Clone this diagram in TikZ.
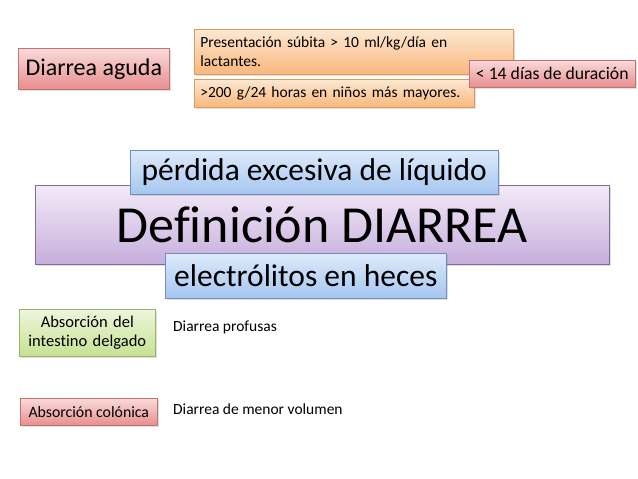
\documentclass[tikz,border=0pt]{standalone}
\usepackage{fontspec}
\setmainfont[Ligatures=NoCommon]{Carlito}
\usetikzlibrary{shadows}
\definecolor{pinkT}{HTML}{FADADA}
\definecolor{pinkB}{HTML}{E88E8E}
\definecolor{pinkD}{HTML}{BE7472}
\definecolor{oraT}{HTML}{FDE8D2}
\definecolor{oraB}{HTML}{F9B77C}
\definecolor{oraD}{HTML}{DB9A5E}
\definecolor{purT}{HTML}{F3EAF8}
\definecolor{purB}{HTML}{C6AEDC}
\definecolor{purD}{HTML}{806C98}
\definecolor{bluT}{HTML}{DDEAFB}
\definecolor{bluB}{HTML}{A6C6F0}
\definecolor{bluD}{HTML}{6F90BE}
\definecolor{grnT}{HTML}{EDF6DD}
\definecolor{grnB}{HTML}{C6E192}
\definecolor{grnD}{HTML}{98B567}
\tikzset{
  boxbase/.style={draw, line width=0.6pt, inner sep=4pt, anchor=north west,
    drop shadow={opacity=0.25, shadow xshift=1.2pt, shadow yshift=-1.8pt}},
  pinkbox/.style={boxbase, top color=pinkT, bottom color=pinkB, draw=pinkD},
  orabox/.style={boxbase, top color=oraT, bottom color=oraB, draw=oraD},
  purbox/.style={boxbase, top color=purT, bottom color=purB, draw=purD},
  blubox/.style={boxbase, top color=bluT, bottom color=bluB, draw=bluD},
  grnbox/.style={boxbase, top color=grnT, bottom color=grnB, draw=grnD},
  plaintext/.style={anchor=west, inner sep=0pt, font=\fontsize{15.5}{18}\selectfont}
}
\begin{document}
\begin{tikzpicture}[x=1pt,y=-1pt]
\useasboundingbox[fill=white] (0,0) rectangle (638,479);
% top row
\node[pinkbox, minimum width=151pt, minimum height=41pt, font=\fontsize{24}{28}\selectfont] (aguda) at (18,48) {Diarrea aguda};
\node[orabox, minimum width=319pt, minimum height=45pt, text width=307pt, inner xsep=6pt, align=left, font=\fontsize{15.5}{18.5}\selectfont] (pres) at (194,29) {Presentación súbita > 10 ml/kg/día en\\lactantes.};
\node[orabox, minimum width=280pt, minimum height=28pt, text width=268pt, inner xsep=6pt, align=left, font=\fontsize{15.5}{18}\selectfont] (g200) at (194,79) {>200 g/24 horas en niños más mayores.};
\node[pinkbox, minimum width=166pt, minimum height=27pt, font=\fontsize{17.7}{20}\selectfont] (dias) at (469,60) {< 14 días de duración};
% middle
\node[purbox, minimum width=574pt, minimum height=79pt, font=\fontsize{52}{58}\selectfont] (def) at (35,185) {Definición DIARREA};
\node[blubox, minimum width=368pt, minimum height=44pt, font=\fontsize{31.5}{36}\selectfont] (perd) at (130,150) {pérdida excesiva de líquido};
\node[blubox, minimum width=281pt, minimum height=45pt, font=\fontsize{31.5}{36}\selectfont] (elec) at (165,253) {electrólitos en heces};
% bottom
\node[grnbox, minimum width=136pt, minimum height=47pt, text width=132pt, inner xsep=2pt, align=center, font=\fontsize{16.5}{19.5}\selectfont] (intes) at (19,309) {Absorción del\\intestino delgado};
\node[pinkbox, minimum width=137pt, minimum height=27pt, inner xsep=2pt, font=\fontsize{15.8}{18}\selectfont] (colon) at (20,398) {Absorción colónica};
\node[plaintext] (prof) at (173,327) {Diarrea profusas};
\node[plaintext] (menor) at (173,409) {Diarrea de menor volumen};
\end{tikzpicture}
\end{document}
